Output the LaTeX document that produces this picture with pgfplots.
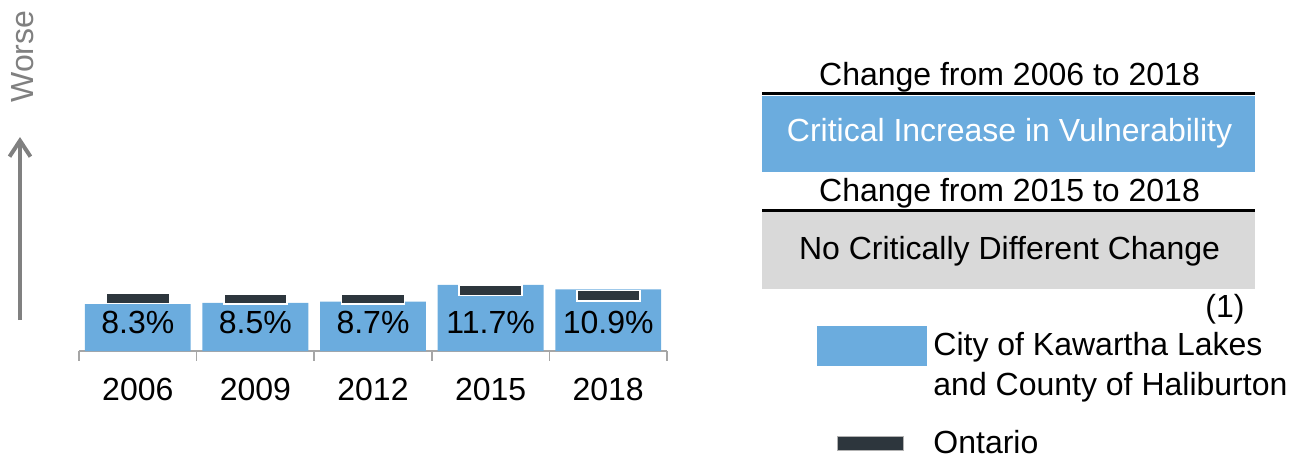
\documentclass[border=0pt]{standalone}
\usepackage{pgfplots}
\pgfplotsset{compat=1.18}
\usepackage{fontspec}
\setmainfont{Liberation Sans}
\usetikzlibrary{arrows.meta}
\definecolor{kblue}{RGB}{107,172,222}
\definecolor{ont}{RGB}{45,54,61}
\definecolor{boxgray}{RGB}{217,217,217}
\definecolor{axgray}{RGB}{166,166,166}
\definecolor{txtgray}{RGB}{128,128,128}
\pgfdeclareplotmark{ontbar}{\pgfpathrectangle{\pgfqpoint{-15.75pt}{-2.6pt}}{\pgfqpoint{31.5pt}{5.2pt}}\pgfusepathqfillstroke}
\newcommand\fs{\fontsize{16}{19}\selectfont}
\begin{document}
\begin{tikzpicture}
\begin{scope}[x=0.5pt,y=-0.5pt]
\path[use as bounding box] (0,0) rectangle (1299,462);
\node[rotate=90, anchor=base, text=txtgray, font=\fs, inner sep=0] at (33,56.5) {Worse};
\draw[txtgray, line width=2pt, -{Straight Barb[length=8pt, width=10.5pt]}] (20,320) -- (20,137);
\node[anchor=base, font=\fs, inner sep=0] at (1009.5,85) {Change from 2006 to 2018};
\fill[kblue] (762,95.7) rectangle (1255,171.7);
\draw[black, line width=1.3pt] (762,93.5) -- (1255,93.5);
\node[anchor=base, font=\fs, text=white, inner sep=0] at (1009.5,141.7) {Critical Increase in Vulnerability};
\node[anchor=base, font=\fs, inner sep=0] at (1009.5,201.5) {Change from 2015 to 2018};
\fill[boxgray] (762,212.3) rectangle (1255,289);
\draw[black, line width=1.3pt] (762,210.3) -- (1255,210.3);
\node[anchor=base, font=\fs, inner sep=0] at (1009.5,259.3) {No Critically Different Change};
\node[anchor=base, font=\fs, inner sep=0] at (1225,317) {(1)};
\fill[kblue] (816.7,325.7) rectangle (927,366);
\node[anchor=base west, font=\fs, inner sep=0] at (933,355.7) {City of Kawartha Lakes};
\node[anchor=base west, font=\fs, inner sep=0] at (933,395) {and County of Haliburton};
\filldraw[fill=ont, draw=gray!60, line width=0.3pt] (837.7,436.7) rectangle (903.3,450);
\node[anchor=base west, font=\fs, inner sep=0] at (933,453) {Ontario};
\end{scope}
\begin{axis}[
  at={(39.5pt,-175.5pt)}, anchor=south west,
  scale only axis, width=294pt, height=39.64pt,
  xmin=-0.5, xmax=4.5, ymin=0, ymax=14,
  axis y line=none, axis x line*=bottom,
  axis line style={-, draw=axgray, line width=0.75pt},
  xtick={0,1,2,3,4},
  xticklabels={2006,2009,2012,2015,2018},
  minor xtick={-0.5,0.5,1.5,2.5,3.5,4.5},
  major tick length=0pt, minor tick length=4.85pt,
  tick align=outside,
  minor tick style={draw=axgray, line width=0.75pt},
  xticklabel style={font=\fs, anchor=base, yshift=-24.85pt},
  clip=false,
]
\addplot[ybar, bar shift=0pt, bar width=0.9, fill=kblue, draw=none]
  coordinates {(0,8.3) (1,8.5) (2,8.7) (3,11.7) (4,10.9)};
\addplot[only marks, mark=ontbar, mark options={fill=ont, draw=white, line width=0.8pt}]
  coordinates {(0,9.3) (1,9.2) (2,9.2) (3,10.7) (4,9.8)};
\addplot[only marks, mark=none, point meta=explicit symbolic,
  nodes near coords, nodes near coords align={center},
  every node near coord/.append style={font=\fs, text=black, anchor=center, inner sep=0}]
  coordinates {(0,5.03) [8.3\%] (1,5.03) [8.5\%] (2,5.03) [8.7\%] (3,5.03) [11.7\%] (4,5.03) [10.9\%]};
\end{axis}
\end{tikzpicture}
\end{document}
